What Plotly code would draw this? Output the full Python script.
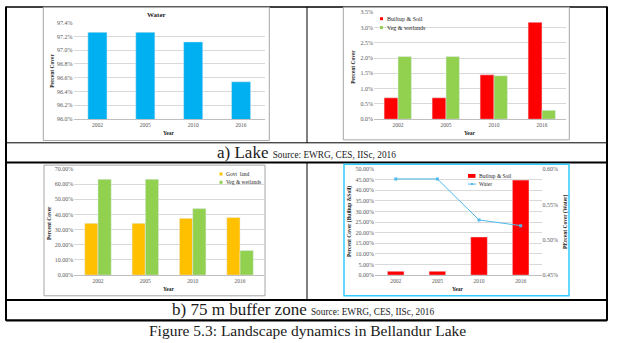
import plotly.graph_objects as go

# ---------------- data ----------------
years = ["2002", "2005", "2010", "2016"]
lake_water = [97.26, 97.26, 97.12, 96.54]
lake_builtup = [0.70, 0.70, 1.45, 3.17]
lake_veg = [2.05, 2.05, 1.42, 0.29]
buffer_govt = [34.2, 34.2, 37.5, 38.1]
buffer_veg = [63.3, 63.3, 43.9, 16.2]
buffer_builtup = [1.85, 1.85, 18.0, 44.8]
buffer_water = [0.586, 0.586, 0.528, 0.520]

W, H = 620, 343
def X(px): return px / W
def Y(py): return 1 - py / H

SERIF = "Liberation Serif"
TICK = dict(family=SERIF, size=6, color="#595959")
GRID = "#D9D9D9"
AXL = "#BFBFBF"

C_WATER = "#00B0F0"
C_RED = "#FF0000"
C_GREEN = "#92D050"
C_GOLD = "#FFC000"
C_LINE = "#4FB9EC"

fig = go.Figure()

# chart 1: lake water
fig.add_trace(go.Bar(x=years, y=lake_water, marker_color=C_WATER, width=0.4,
                     xaxis="x", yaxis="y", showlegend=False))
# chart 2: lake builtup / veg
fig.add_trace(go.Bar(x=years, y=lake_builtup, marker_color=C_RED, width=0.29, offset=-0.29,
                     xaxis="x2", yaxis="y2", showlegend=False))
fig.add_trace(go.Bar(x=years, y=lake_veg, marker_color=C_GREEN, width=0.28, offset=0.0,
                     xaxis="x2", yaxis="y2", showlegend=False))
# chart 3: buffer govt / veg
fig.add_trace(go.Bar(x=years, y=buffer_govt, marker_color=C_GOLD, width=0.28, offset=-0.28,
                     xaxis="x3", yaxis="y3", showlegend=False))
fig.add_trace(go.Bar(x=years, y=buffer_veg, marker_color=C_GREEN, width=0.28, offset=0.0,
                     xaxis="x3", yaxis="y3", showlegend=False))
# chart 4: buffer builtup + water line
fig.add_trace(go.Bar(x=years, y=buffer_builtup, marker_color=C_RED, width=0.4,
                     xaxis="x4", yaxis="y4", showlegend=False))
fig.add_trace(go.Scatter(x=years, y=buffer_water, mode="lines+markers",
                         line=dict(color=C_LINE, width=1),
                         marker=dict(symbol="square", size=3, color=C_LINE),
                         xaxis="x4", yaxis="y5", showlegend=False))

def xax(d0, d1, anchor):
    return dict(domain=[X(d0), X(d1)], anchor=anchor, type="category",
                tickfont=dict(family=SERIF, size=5.5, color="#595959"),
                showline=True, linecolor=AXL, linewidth=1, ticks="",
                showgrid=False, zeroline=False, fixedrange=True)

def yax(top, bot, anchor, rng, dt, fmt):
    return dict(domain=[Y(bot), Y(top)], anchor=anchor, range=rng, dtick=dt,
                tickformat=fmt, ticksuffix="%", tickfont=TICK,
                showgrid=True, gridcolor=GRID, gridwidth=1, zeroline=False,
                showline=False, ticks="", fixedrange=True)

layout = dict(
    width=W, height=H, margin=dict(l=0, r=0, t=0, b=0),
    paper_bgcolor="white", plot_bgcolor="rgba(0,0,0,0)",
    barmode="group", bargap=0.42,
    xaxis=xax(73.5, 265, "y"),
    yaxis=yax(20, 118, "x", [96.0, 97.4], 0.2, ".1f"),
    xaxis2=xax(374, 566, "y2"),
    yaxis2=yax(9.3, 118.3, "x2", [0, 3.5], 0.5, ".1f"),
    xaxis3=xax(74.3, 263.7, "y3"),
    yaxis3=yax(169, 277, "x3", [0, 70], 10, ".2f"),
    xaxis4=xax(374.9, 541.5, "y4"),
    yaxis4=yax(169, 277, "x4", [0, 50], 5, ".2f"),
    yaxis5=dict(domain=[Y(277), Y(169)], anchor="x4", overlaying="y4", side="right",
                range=[0.45, 0.60], dtick=0.05, tickformat=".2f", ticksuffix="%",
                tickfont=TICK, showgrid=False, zeroline=False, showline=False,
                ticks="", fixedrange=True),
)
fig.update_layout(**layout)

shapes = []
def line(x0, y0, x1, y1, w=1, c="black"):
    shapes.append(dict(type="line", xref="paper", yref="paper",
                       x0=X(x0), y0=Y(y0), x1=X(x1), y1=Y(y1),
                       line=dict(color=c, width=w), layer="below"))
def box(x0, y0, x1, y1, c, w=1):
    shapes.append(dict(type="rect", xref="paper", yref="paper",
                       x0=X(x0), y0=Y(y0), x1=X(x1), y1=Y(y1),
                       line=dict(color=c, width=w), fillcolor="white", layer="below"))

# table frame
line(6, 4, 607, 4, 1.5)
line(6, 3.5, 6, 323.5, 2)
line(607, 3.5, 607, 323.5, 2)
line(6, 142.3, 607, 142.3, 1)
line(6, 162.3, 607, 162.3, 2)
line(6, 302.3, 607, 302.3, 2)
line(6, 323, 607, 323, 2.2)
line(307, 4, 307, 142.3, 1)
line(307, 162.3, 307, 302.3, 1)
# chart frames
box(43.3, 4.3, 269.3, 140, "#A6A6A6")
box(343.3, 4.3, 569.3, 139.3, "#A6A6A6")
box(44, 165, 265, 298, "#A6A6A6")
box(344, 164, 569, 298, "#33CCFF", 1.5)

# legend swatches (decorative)
def sw(x0, y0, x1, y1, c):
    shapes.append(dict(type="rect", xref="paper", yref="paper",
                       x0=X(x0), y0=Y(y0), x1=X(x1), y1=Y(y1),
                       line=dict(width=0), fillcolor=c))
sw(380, 14.5, 383, 17.5, C_RED)
sw(380, 23.5, 383, 26.5, C_GREEN)
sw(219.5, 172.5, 222.5, 175.5, C_GOLD)
sw(219.5, 181, 222.5, 184, C_GREEN)
sw(468, 174, 475.5, 178, C_RED)
shapes.append(dict(type="line", xref="paper", yref="paper",
                   x0=X(468), y0=Y(184.3), x1=X(476), y1=Y(184.3),
                   line=dict(color=C_LINE, width=1)))
sw(471, 183.3, 473, 185.3, C_LINE)
fig.update_layout(shapes=shapes)

ann = []
def txt(x, y, s, size=5.5, bold=False, angle=0, xa="center", color="#262626", family=SERIF):
    ann.append(dict(x=X(x), y=Y(y), xref="paper", yref="paper", text=(f"<b>{s}</b>" if bold else s),
                    showarrow=False, xanchor=xa, yanchor="middle", textangle=angle,
                    font=dict(family=family, size=size, color=color)))

# chart 1
txt(156.5, 12, "Water", 7, True)
txt(169, 132, "Year", 5.5, True)
txt(52, 69, "Percent Cover", 5.5, True, -90)
# chart 2
txt(470, 132, "Year", 5.5, True)
txt(353, 65, "Percent Cover", 5.5, True, -90)
txt(384.5, 16, "Builtup &amp; Soil", 6, xa="left")
txt(384.5, 25, "Veg &amp; wetlands", 6, xa="left")
# chart 3
txt(169, 291, "Year", 5.5, True)
txt(49, 224, "Percent Cover", 5.5, True, -90)
txt(224, 174, "Govt\u00a0 land", 5.5, xa="left")
txt(224, 182.5, "Veg &amp; wetlands", 5.5, xa="left")
# chart 4
txt(458, 291, "Year", 5.5, True)
txt(349, 223, "Percent Cover (Builtup &amp;Soil)", 5.5, True, -90)
txt(565, 223, "PErcent Cover (Water)", 5.5, True, -90)
txt(477, 176, "Builtup &amp; Soil", 5.5, xa="left")
txt(477, 184.3, "Water", 5.5, xa="left")

# captions
txt(306, 152, "a) Lake <span style='font-size:9.3px'>Source: EWRG, CES, IISc, 2016</span>", 17, color="#1a1a1a")
txt(302.5, 312, "b) 75 m buffer zone <span style='font-size:9.3px'>Source: EWRG, CES, IISc, 2016</span>", 17, color="#1a1a1a")
txt(307, 333, "Figure 5.3: Landscape dynamics in Bellandur Lake", 15.5, color="#1a1a1a")
fig.update_layout(annotations=ann)

fig.write_html("out.html", config={"displayModeBar": False})
